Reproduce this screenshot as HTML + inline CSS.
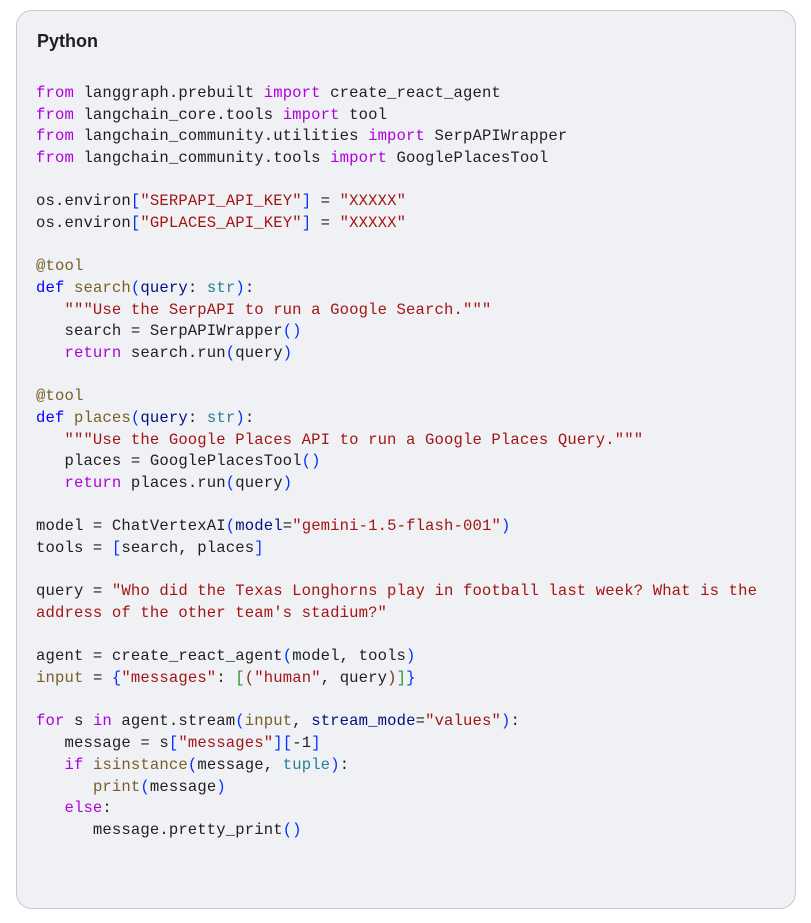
<!DOCTYPE html>
<html><head><meta charset="utf-8"><style>
body{margin:0;background:#fff;width:811px;height:923px;overflow:hidden}
.box{position:absolute;left:16px;top:10px;width:780px;height:899px;background:#f0f1f4;border:1px solid #c8c9cc;border-radius:16px;box-sizing:border-box}
h1{position:absolute;left:20px;top:20px;margin:0;font:bold 18px "Liberation Sans",sans-serif;color:#1f1f1f}
pre{position:absolute;left:19px;top:72px;margin:0;font:15.6px/21.67px "Liberation Mono",monospace;letter-spacing:0.13px;color:#1f1f1f}
.k{color:#af00db}.d{color:#0000ff}.f{color:#795e26}.s{color:#a31515}.p{color:#001080}.t{color:#267f99}
.b{color:#0431fa}.g{color:#319331}.r{color:#7b3814}
</style></head><body><div class="box"><h1>Python</h1>
<pre><span class="k">from</span> langgraph.prebuilt <span class="k">import</span> create_react_agent
<span class="k">from</span> langchain_core.tools <span class="k">import</span> tool
<span class="k">from</span> langchain_community.utilities <span class="k">import</span> SerpAPIWrapper
<span class="k">from</span> langchain_community.tools <span class="k">import</span> GooglePlacesTool

os.environ<span class="b">[</span><span class="s">"SERPAPI_API_KEY"</span><span class="b">]</span> = <span class="s">"XXXXX"</span>
os.environ<span class="b">[</span><span class="s">"GPLACES_API_KEY"</span><span class="b">]</span> = <span class="s">"XXXXX"</span>

<span class="f">@tool</span>
<span class="d">def</span> <span class="f">search</span><span class="b">(</span><span class="p">query</span>: <span class="t">str</span><span class="b">)</span>:
   <span class="s">"""Use the SerpAPI to run a Google Search."""</span>
   search = SerpAPIWrapper<span class="b">()</span>
   <span class="k">return</span> search.run<span class="b">(</span>query<span class="b">)</span>

<span class="f">@tool</span>
<span class="d">def</span> <span class="f">places</span><span class="b">(</span><span class="p">query</span>: <span class="t">str</span><span class="b">)</span>:
   <span class="s">"""Use the Google Places API to run a Google Places Query."""</span>
   places = GooglePlacesTool<span class="b">()</span>
   <span class="k">return</span> places.run<span class="b">(</span>query<span class="b">)</span>

model = ChatVertexAI<span class="b">(</span><span class="p">model</span>=<span class="s">"gemini-1.5-flash-001"</span><span class="b">)</span>
tools = <span class="b">[</span>search, places<span class="b">]</span>

query = <span class="s">"Who did the Texas Longhorns play in football last week? What is the
address of the other team's stadium?"</span>

agent = create_react_agent<span class="b">(</span>model, tools<span class="b">)</span>
<span class="f">input</span> = <span class="b">{</span><span class="s">"messages"</span>: <span class="g">[</span><span class="r">(</span><span class="s">"human"</span>, query<span class="r">)</span><span class="g">]</span><span class="b">}</span>

<span class="k">for</span> s <span class="k">in</span> agent.stream<span class="b">(</span><span class="f">input</span>, <span class="p">stream_mode</span>=<span class="s">"values"</span><span class="b">)</span>:
   message = s<span class="b">[</span><span class="s">"messages"</span><span class="b">][</span>-1<span class="b">]</span>
   <span class="k">if</span> <span class="f">isinstance</span><span class="b">(</span>message, <span class="t">tuple</span><span class="b">)</span>:
      <span class="f">print</span><span class="b">(</span>message<span class="b">)</span>
   <span class="k">else</span>:
      message.pretty_print<span class="b">()</span>
</pre></div></body></html>
